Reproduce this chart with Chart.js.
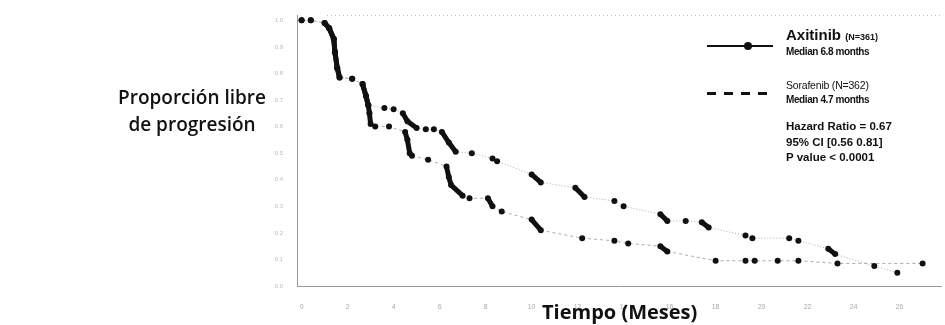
<!DOCTYPE html>
<html>
<head>
<meta charset="utf-8">
<script src="https://cdn.jsdelivr.net/npm/chart.js@4/dist/chart.umd.min.js"></script>
<style>
  body { margin: 0; background: #fff; }
  #wrap { position: relative; width: 945px; height: 325px; overflow: hidden; }
  canvas { position: absolute; left: 0; top: 0; }
  .lbl { position: absolute; font-family: "Open Sans", sans-serif; font-weight: 600; color: #111; white-space: nowrap; }
  .leg { position: absolute; font-family: "Liberation Sans", Arial, sans-serif; font-weight: bold; color: #111; white-space: nowrap; }
</style>
</head>
<body>
<div id="wrap">
  <canvas id="km" width="945" height="325"></canvas>
  <div class="lbl" style="left:118px;top:84px;font-size:19px;line-height:27px;text-align:center;">Proporción libre<br>de progresión</div>
  <div class="lbl" style="left:542px;top:298px;font-size:20px;font-weight:700;">Tiempo (Meses)</div>

  <div style="position:absolute;left:707px;top:45px;width:66px;border-top:2px solid #111;"></div>
  <div style="position:absolute;left:744px;top:42px;width:8px;height:8px;border-radius:4px;background:#111;"></div>
  <div class="leg" style="left:786px;top:26px;font-size:15px;">Axitinib <span style="font-size:9px;">(N=361)</span></div>
  <div class="leg" style="left:786px;top:46px;font-size:10px;letter-spacing:-0.4px;">Median 6.8 months</div>

  <div style="position:absolute;left:707px;top:92px;width:60px;height:3px;background:repeating-linear-gradient(90deg,#111 0 9px,transparent 9px 17px);"></div>
  <div class="leg" style="left:786px;top:79px;font-size:10.5px;font-weight:normal;letter-spacing:-0.2px;">Sorafenib (N=362)</div>
  <div class="leg" style="left:786px;top:94px;font-size:10px;letter-spacing:-0.4px;">Median 4.7 months</div>

  <div class="leg" style="left:786px;top:119px;font-size:11.5px;line-height:15.5px;">Hazard Ratio = 0.67<br>95% CI [0.56 0.81]<br>P value &lt; 0.0001</div>
</div>
<script>
// Kaplan-Meier
const axitinibMonths = [0, 0.4, 1.0, 1.2, 1.4, 1.45, 1.55, 1.65, 2.2, 2.65, 2.8, 2.9, 3.6, 4.0, 4.4, 4.6, 5.0, 5.4, 5.75, 6.1, 6.4, 6.7, 7.4, 8.3, 8.5, 10.0, 10.4, 11.9, 12.3, 13.6, 14.0, 15.6, 15.9, 16.7, 17.4, 17.7, 19.3, 19.6, 21.2, 21.6, 22.9, 23.2, 24.9, 25.9];
const axitinibFree   = [1.0, 1.0, 0.99, 0.97, 0.93, 0.88, 0.82, 0.785, 0.78, 0.76, 0.715, 0.68, 0.67, 0.665, 0.65, 0.62, 0.595, 0.59, 0.59, 0.58, 0.54, 0.505, 0.50, 0.48, 0.47, 0.42, 0.39, 0.37, 0.335, 0.32, 0.30, 0.27, 0.245, 0.245, 0.24, 0.22, 0.19, 0.18, 0.18, 0.17, 0.14, 0.12, 0.075, 0.05];

const sorafenibMonths = [0, 0.4, 1.0, 1.2, 1.4, 1.45, 1.55, 1.65, 2.2, 2.65, 2.8, 2.9, 2.95, 3.0, 3.2, 3.8, 4.5, 4.6, 4.7, 4.8, 5.5, 6.3, 6.4, 6.5, 7.0, 7.3, 8.1, 8.3, 8.7, 10.0, 10.4, 12.2, 13.6, 14.2, 15.6, 15.9, 18.0, 19.3, 19.7, 20.7, 21.6, 23.3, 27.0];
const sorafenibFree   = [1.0, 1.0, 0.99, 0.97, 0.93, 0.88, 0.82, 0.785, 0.78, 0.76, 0.715, 0.68, 0.65, 0.61, 0.60, 0.60, 0.58, 0.55, 0.50, 0.49, 0.475, 0.45, 0.41, 0.38, 0.34, 0.33, 0.33, 0.30, 0.28, 0.25, 0.21, 0.18, 0.17, 0.16, 0.15, 0.13, 0.095, 0.095, 0.095, 0.095, 0.095, 0.085, 0.085];

const xTicks = [0, 2, 4, 6, 8, 10, 12, 14, 16, 18, 20, 22, 24, 26];
const yTicks = [0, 0.1, 0.2, 0.3, 0.4, 0.5, 0.6, 0.7, 0.8, 0.9, 1.0];

const pts = (xs, ys) => xs.map((x, i) => ({ x: x, y: ys[i] }));

// drops print as heavy black strokes in the scan, flat runs as faint dots
const steep = c => Math.abs(c.p1.y - c.p0.y) > 2 && Math.abs(c.p1.y - c.p0.y) > 0.7 * Math.abs(c.p1.x - c.p0.x);

const topLine = {
  id: 'topLine',
  afterDraw(chart) {
    const { ctx, chartArea } = chart;
    ctx.save();
    ctx.strokeStyle = '#bbb';
    ctx.lineWidth = 1;
    ctx.setLineDash([1, 3]);
    ctx.beginPath();
    ctx.moveTo(chartArea.left + 30, chartArea.top + 0.5);
    ctx.lineTo(chartArea.right, chartArea.top + 0.5);
    ctx.stroke();
    ctx.restore();
  }
};

function curve(label, xs, ys, dash) {
  return {
    label: label,
    data: pts(xs, ys),
    showLine: true,
    borderColor: '#999',
    borderWidth: 1,
    borderDash: dash,
    pointRadius: 3,
    pointBackgroundColor: '#111',
    pointBorderWidth: 0,
    segment: {
      borderColor: c => steep(c) ? '#111' : '#aaa',
      borderWidth: c => steep(c) ? 5 : 1,
      borderDash: c => steep(c) ? [] : dash
    }
  };
}

new Chart(document.getElementById('km'), {
  type: 'scatter',
  data: {
    datasets: [
      curve('Axitinib', axitinibMonths, axitinibFree, [1, 2]),
      curve('Sorafenib', sorafenibMonths, sorafenibFree, [3, 3])
    ]
  },
  options: {
    responsive: false,
    animation: false,
    layout: { padding: { left: 240, top: 15, right: 0, bottom: 0 } },
    plugins: { legend: { display: false }, tooltip: { enabled: false } },
    scales: {
      x: {
        type: 'linear',
        min: -0.2,
        max: 27.8,
        afterFit: s => { s.height = 39; },
        afterBuildTicks: s => { s.ticks = xTicks.map(v => ({ value: v })); },
        grid: { display: false },
        border: { display: true, color: '#999', dash: [1, 2] },
        ticks: { color: '#aaa', font: { size: 7 }, padding: 9 }
      },
      y: {
        min: 0,
        max: 1.02,
        afterFit: s => { s.width = 57; },
        afterBuildTicks: s => { s.ticks = yTicks.map(v => ({ value: v })); },
        grid: { display: false },
        border: { display: true, color: '#999', dash: [1, 2] },
        ticks: { color: '#bbb', font: { size: 6 }, padding: 6, callback: v => v.toFixed(1) }
      }
    }
  },
  plugins: [topLine]
});
</script>
</body>
</html>
